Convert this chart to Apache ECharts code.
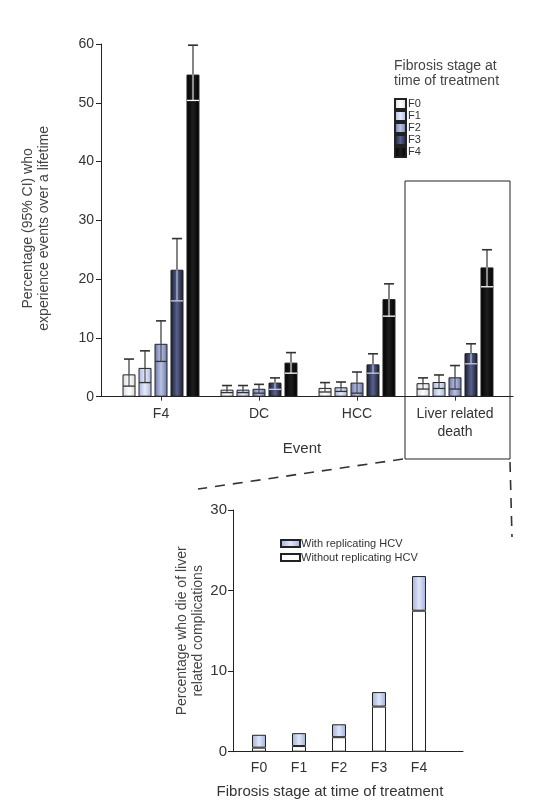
<!DOCTYPE html>
<html>
<head>
<meta charset="utf-8">
<script src="https://cdn.jsdelivr.net/npm/echarts@6/dist/echarts.min.js"></script>
<style>html,body{margin:0;padding:0;background:#fff}#c{width:559px;height:812px}</style>
</head>
<body>
<div id="c"></div>
<script>
// ---------- Data (top chart) ----------
const eventCategories = ['F4', 'DC', 'HCC', 'Liver related\ndeath'];
const stageNames = ['F0', 'F1', 'F2', 'F3', 'F4'];
const valF0 = [3.8, 1.2, 1.5, 2.3];
const loF0  = [1.8, 0.7, 0.8, 1.3];
const hiF0  = [6.4, 1.9, 2.4, 3.2];
const valF1 = [4.9, 1.2, 1.6, 2.5];
const loF1  = [2.4, 0.7, 0.9, 1.4];
const hiF1  = [7.8, 1.9, 2.5, 3.7];
const valF2 = [9.0, 1.35, 2.4, 3.3];
const loF2  = [6.0, 0.6, 0.6, 1.3];
const hiF2  = [12.9, 2.1, 4.2, 5.3];
const valF3 = [21.6, 2.4, 5.5, 7.4];
const loF3  = [16.3, 1.25, 4.0, 5.6];
const hiF3  = [26.9, 3.2, 7.3, 9.0];
const valF4 = [54.8, 5.8, 16.6, 22.0];
const loF4  = [50.4, 4.0, 13.7, 18.7];
const hiF4  = [59.8, 7.5, 19.2, 25.0];
const topTicks = [0, 10, 20, 30, 40, 50, 60];

// ---------- Data (bottom chart) ----------
const treatStages = ['F0', 'F1', 'F2', 'F3', 'F4'];
const withoutHCV = [0.5, 0.7, 1.8, 5.6, 17.5];
const withHCV    = [1.6, 1.6, 1.6, 1.8, 4.3];
const bottomTicks = [0, 10, 20, 30];

// ---------- Styles ----------
const FONT = 'Liberation Sans, Arial, sans-serif';
const TXT = '#333';
function grad(edge, mid) {
  return {type: 'linear', x: 0, y: 0, x2: 1, y2: 0,
    colorStops: [{offset: 0, color: edge}, {offset: 0.5, color: mid}, {offset: 1, color: edge}]};
}
const stageFill = [
  grad('#d6d8e0', '#ffffff'),
  grad('#a7b2dc', '#e6ebf9'),
  grad('#6772a5', '#bac3e5'),
  grad('#14182b', '#5a628c'),
  grad('#000000', '#1e1e1e')
];
const innerColor = ['#333', '#333', '#333', '#c9cde2', '#ffffff'];
const stageVals = [valF0, valF1, valF2, valF3, valF4];
const stageLo = [loF0, loF1, loF2, loF3, loF4];
const stageHi = [hiF0, hiF1, hiF2, hiF3, hiF4];
const BAR_W = 13, BAR_STEP = 16;

const series = [];
stageNames.forEach((nm, i) => {
  series.push({
    name: nm, type: 'bar', xAxisIndex: 1, yAxisIndex: 1,
    data: stageVals[i], barWidth: BAR_W, barGap: '23%',
    itemStyle: {color: stageFill[i], borderColor: '#222', borderWidth: 1},
    emphasis: {disabled: true}, z: 2
  });
});
stageNames.forEach((nm, i) => {
  series.push({
    name: 'err' + nm, type: 'custom', xAxisIndex: 1, yAxisIndex: 1, z: 5,
    data: eventCategories.map((c, j) => [j, stageVals[i][j], stageLo[i][j], stageHi[i][j]]),
    renderItem: function (params, api) {
      const j = api.value(0);
      const top = api.coord([j, api.value(1)]);
      const lo = api.coord([j, api.value(2)]);
      const hi = api.coord([j, api.value(3)]);
      const cx = top[0] + (i - 2) * BAR_STEP;
      const ic = innerColor[i];
      return {type: 'group', children: [
        {type: 'line', shape: {x1: cx, y1: top[1], x2: cx, y2: hi[1]}, style: {stroke: '#333', lineWidth: 1.2}},
        {type: 'line', shape: {x1: cx - 5, y1: hi[1], x2: cx + 5, y2: hi[1]}, style: {stroke: '#333', lineWidth: 1.6}},
        {type: 'line', shape: {x1: cx, y1: top[1], x2: cx, y2: lo[1]}, style: {stroke: ic, lineWidth: 1}},
        {type: 'line', shape: {x1: cx - 6, y1: lo[1], x2: cx + 6, y2: lo[1]}, style: {stroke: ic, lineWidth: 1.3}}
      ]};
    }
  });
});
series.push({
  name: 'Without replicating HCV', type: 'bar', stack: 'hcv', xAxisIndex: 3, yAxisIndex: 3,
  data: withoutHCV, barWidth: 14,
  itemStyle: {color: '#ffffff', borderColor: '#222', borderWidth: 1}, emphasis: {disabled: true}
});
series.push({
  name: 'With replicating HCV', type: 'bar', stack: 'hcv', xAxisIndex: 3, yAxisIndex: 3,
  data: withHCV, barWidth: 14,
  itemStyle: {color: grad('#a2b0db', '#e0e7f8'), borderColor: '#222', borderWidth: 1}, emphasis: {disabled: true}
});

const axisLineStyle = {lineStyle: {color: '#222', width: 1}};
const option = {
  animation: false,
  textStyle: {fontFamily: FONT, color: TXT},
  title: {
    text: 'Fibrosis stage at\ntime of treatment', left: 389, top: 54,
    textStyle: {fontFamily: FONT, fontSize: 14, fontWeight: 'normal', color: '#444', lineHeight: 15}
  },
  legend: [
    {data: stageNames, orient: 'vertical', left: 389, top: 93, itemGap: 0, itemWidth: 11, itemHeight: 10,
     icon: 'rect', selectedMode: false,
     textStyle: {fontFamily: FONT, fontSize: 11, color: TXT, padding: [0, 0, 0, -3]}},
    {data: ['With replicating HCV', 'Without replicating HCV'], orient: 'vertical', left: 275, top: 533,
     itemGap: 3, itemWidth: 19, itemHeight: 7, icon: 'rect', selectedMode: false,
     textStyle: {fontFamily: FONT, fontSize: 11, color: TXT, padding: [0, 0, 0, -4]}}
  ],
  grid: [
    {left: 101, right: 46, top: 44, bottom: 415.3},
    {left: 112, right: 55, top: 44, bottom: 415.3},
    {left: 233, right: 96, top: 510, bottom: 60.3},
    {left: 239, right: 120, top: 510, bottom: 60.3}
  ],
  xAxis: [
    {gridIndex: 0, type: 'value', min: 0, max: 1, axisLine: axisLineStyle,
     axisTick: {show: false}, axisLabel: {show: false}, splitLine: {show: false}},
    {gridIndex: 1, type: 'category', data: eventCategories, axisLine: {show: false},
     axisTick: {show: true, alignWithLabel: true, interval: 0, length: 4, lineStyle: {color: '#333'}},
     axisLabel: {interval: 0, fontFamily: FONT, fontSize: 14, color: TXT, margin: 8, lineHeight: 18},
     name: 'Event', nameLocation: 'middle', nameGap: 41,
     nameTextStyle: {fontFamily: FONT, fontSize: 15, color: TXT, padding: [0, 12, 0, 0]}},
    {gridIndex: 2, type: 'value', min: 0, max: 1, axisLine: axisLineStyle,
     axisTick: {show: false}, axisLabel: {show: false}, splitLine: {show: false}},
    {gridIndex: 3, type: 'category', data: treatStages, axisLine: {show: false},
     axisTick: {show: false},
     axisLabel: {interval: 0, fontFamily: FONT, fontSize: 14, color: TXT, margin: 9},
     name: 'Fibrosis stage at time of treatment', nameLocation: 'middle', nameGap: 33,
     nameTextStyle: {fontFamily: FONT, fontSize: 15, color: TXT, padding: [0, 18, 0, 0]}}
  ],
  yAxis: [
    {gridIndex: 0, type: 'value', min: topTicks[0], max: topTicks[topTicks.length - 1], interval: 10,
     axisLine: {show: true, lineStyle: {color: '#222', width: 1}},
     axisTick: {show: true, length: 5, lineStyle: {color: '#222'}},
     axisLabel: {fontFamily: FONT, fontSize: 14, color: TXT, margin: 7},
     splitLine: {show: false},
     name: 'Percentage (95% CI) who\nexperience events over a lifetime', nameLocation: 'middle', nameRotate: 90,
     nameGap: 49, nameTextStyle: {fontFamily: FONT, fontSize: 14, color: '#444', lineHeight: 16, padding: [0, 16, 0, 0]}},
    {gridIndex: 1, type: 'value', min: 0, max: 60, show: false},
    {gridIndex: 2, type: 'value', min: bottomTicks[0], max: bottomTicks[bottomTicks.length - 1], interval: 10,
     axisLine: {show: true, lineStyle: {color: '#222', width: 1}},
     axisTick: {show: true, length: 5, lineStyle: {color: '#222'}},
     axisLabel: {fontFamily: FONT, fontSize: 15, color: TXT, margin: 6},
     splitLine: {show: false},
     name: 'Percentage who die of liver\nrelated complications', nameLocation: 'middle', nameRotate: 90,
     nameGap: 25, nameTextStyle: {fontFamily: FONT, fontSize: 14, color: '#444', lineHeight: 16}},
    {gridIndex: 3, type: 'value', min: 0, max: 30, show: false}
  ],
  graphic: [
    {type: 'rect', shape: {x: 405, y: 181, width: 105, height: 278}, z: 10,
     style: {fill: 'none', stroke: '#222', lineWidth: 1}},
    {type: 'line', shape: {x1: 403, y1: 459, x2: 198, y2: 489}, z: 10,
     style: {stroke: '#333', lineWidth: 1.6, lineDash: [10, 8]}},
    {type: 'line', shape: {x1: 510, y1: 462, x2: 512, y2: 537}, z: 10,
     style: {stroke: '#333', lineWidth: 1.6, lineDash: [10, 8]}}
  ],
  series: series
};
const chart = echarts.init(document.getElementById('c'), null, {renderer: 'canvas'});
chart.setOption(option);
</script>
</body>
</html>
